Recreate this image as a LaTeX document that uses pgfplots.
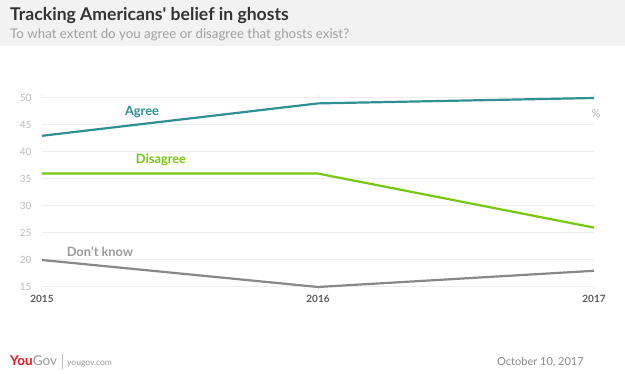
\documentclass[border=0pt]{standalone}
\usepackage{pgfplots}
\pgfplotsset{compat=1.18}
\usepackage{fontspec}
\setmainfont{Lato}
\definecolor{teal1}{HTML}{2E9090}
\definecolor{green1}{HTML}{76C80E}
\definecolor{gray1}{HTML}{888888}
\definecolor{gray2}{HTML}{9A9A9A}
\definecolor{gridc}{HTML}{EEEEEE}
\definecolor{ticklab}{HTML}{BBBBBB}
\definecolor{headbg}{HTML}{F2F2F2}
\definecolor{titlec}{HTML}{333333}
\definecolor{subc}{HTML}{A0A0A0}
\definecolor{ygred}{HTML}{E8121E}
\begin{document}
\begin{tikzpicture}[x=1pt,y=1pt]
\useasboundingbox (0,0) rectangle (625,374);
\fill[white] (0,0) rectangle (625,374);
\fill[headbg] (0,328) rectangle (625,374);
\node[anchor=base west, inner sep=0, text=titlec, font=\fontsize{17.6}{19}\selectfont\bfseries] at (10,353) {Tracking Americans\textquotesingle\ belief in ghosts};
\node[anchor=base west, inner sep=0, text=subc, font=\fontsize{13.3}{15}\selectfont] at (10,335) {To what extent do you agree or disagree that ghosts exist?};
\begin{axis}[
  at={(42pt,87pt)}, anchor=south west, scale only axis,
  width=552pt, height=189pt,
  xmin=2015, xmax=2017, ymin=15, ymax=50,
  xtick={2015,2016,2017}, ytick={15,20,...,50},
  axis line style={draw=none},
  ymajorgrids, grid style={draw=gridc, line width=1pt},
  ytick style={draw=none},
  xtick style={draw=gridc, line width=1pt},
  tick align=outside, major tick length=4pt,
  x tick label style={/pgf/number format/1000 sep={}, font=\fontsize{10}{12}\selectfont\bfseries, text=gray!70!black, yshift=-1pt},
  y tick label style={font=\fontsize{10}{12}\selectfont, text=ticklab, xshift=-3pt},
  /pgf/number format/assume math mode=true,
  clip=false,
]
\addplot[teal1, line width=2.2pt] coordinates {(2015,43) (2016,49) (2017,50)};
\addplot[green1, line width=2.2pt] coordinates {(2015,36) (2016,36) (2017,26)};
\addplot[gray1, line width=2.2pt] coordinates {(2015,20) (2016,15) (2017,18)};
\end{axis}
\node[text=teal1, font=\fontsize{12.8}{14}\selectfont\bfseries] at (142,262) {Agree};
\node[text=green1, font=\fontsize{12.8}{14}\selectfont\bfseries] at (161,214) {Disagree};
\node[text=gray2, font=\fontsize{12.8}{14}\selectfont\bfseries] at (100,122) {Don\textquotesingle t know};
\node[text=ticklab, font=\fontsize{11}{13}\selectfont] at (596,260) {\%};
\node[anchor=base west, inner sep=0, font=\fontsize{13.5}{15}\selectfont] at (10,8) {\textcolor{ygred}{\bfseries You}\textcolor{gray2}{Gov}};
\draw[ticklab, line width=0.6pt] (62,5) -- (62,20);
\node[anchor=base west, inner sep=0, text=gray2, font=\fontsize{8.5}{10}\selectfont] at (67,8) {yougov.com};
\node[anchor=base west, inner sep=0, text=gray1, font=\fontsize{11}{13}\selectfont] at (497,8) {October 10, 2017};
\end{tikzpicture}
\end{document}
